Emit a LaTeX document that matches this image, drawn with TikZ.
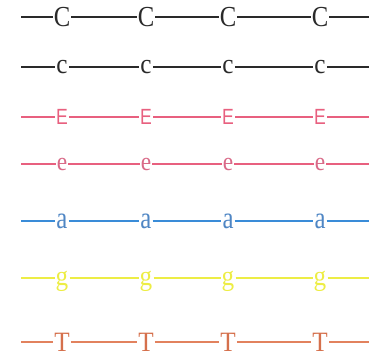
\documentclass[tikz,border=0pt]{standalone}
\usepackage{fontspec}
\setmainfont{Liberation Serif}
\newfontfamily\sansE{Liberation Sans}
\definecolor{cblack}{HTML}{2A2A2A}
\definecolor{cpink}{HTML}{E8607F}
\definecolor{cpinkl}{HTML}{D96A88}
\definecolor{cblue}{HTML}{3A8CD8}
\definecolor{cbluel}{HTML}{4F86C4}
\definecolor{cyel}{HTML}{EDED45}
\definecolor{corg}{HTML}{E2825E}
\definecolor{corgl}{HTML}{D5704C}
\tikzset{
  lt/.style={inner xsep=1.2pt, inner ysep=0pt, outer sep=0pt, anchor=center, text depth=0pt},
}
\begin{document}
\begin{tikzpicture}[x=1pt,y=-1pt]
\useasboundingbox (0,0) rectangle (369,359);
\foreach \r/\y/\t/\fs/\ff/\sx/\lc/\tc/\lw in {
  C/17/C/29/\rmfamily/0.85/cblack/cblack/1.9,
  c/67/c/28/\rmfamily/0.9/cblack/cblack/1.6,
  E/117/E/22/\sansE/0.8/cpink/cpink/1.6,
  e/164/e/26/\rmfamily/0.9/cpink/cpinkl/1.5,
  a/221/a/31/\rmfamily/0.8/cblue/cbluel/1.6,
  g/278/g/28/\rmfamily/0.9/cyel/cyel/1.6,
  T/342/T/28/\rmfamily/0.9/corg/corgl/1.5}{
  \coordinate (\r s) at (21,\y);
  \coordinate (\r e) at (369,\y);
  \foreach \i/\xx in {1/62,2/146,3/228,4/320}{
    \node[lt, text=\tc, font=\ff\fontsize{\fs}{\fs}\selectfont] (\r\i) at (\xx,\y) {\scalebox{\sx}[1]{\t}};
  }
  \draw[\lc, line width=\lw pt] (\r s) -- (\r1.west |- \r s);
  \draw[\lc, line width=\lw pt] (\r1.east |- \r s) -- (\r2.west |- \r s);
  \draw[\lc, line width=\lw pt] (\r2.east |- \r s) -- (\r3.west |- \r s);
  \draw[\lc, line width=\lw pt] (\r3.east |- \r s) -- (\r4.west |- \r s);
  \draw[\lc, line width=\lw pt] (\r4.east |- \r s) -- (\r e);
}
\end{tikzpicture}
\end{document}
